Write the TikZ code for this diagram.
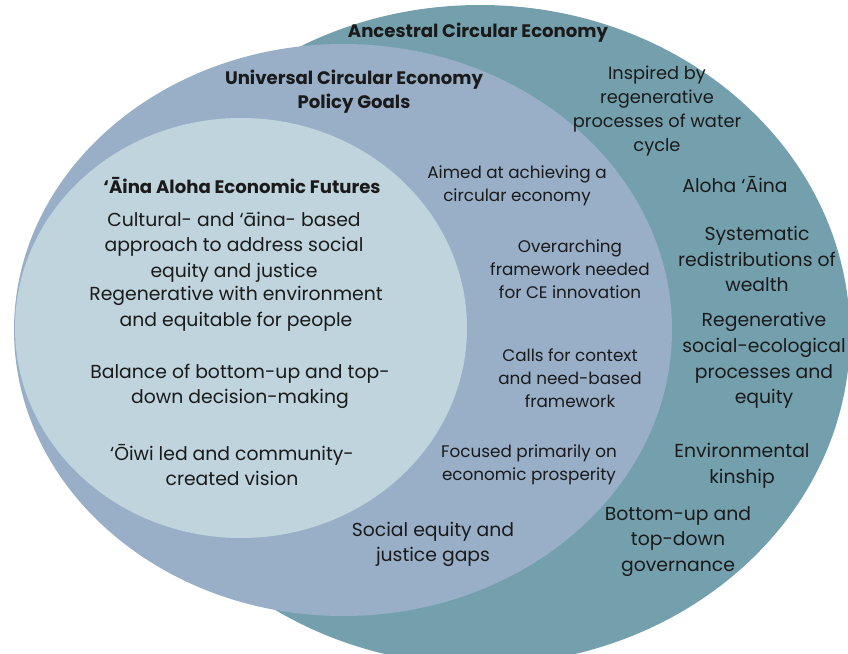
\documentclass[tikz,border=0pt]{standalone}
\usepackage{fontspec}
\setmainfont{Poppins}
\definecolor{ancestral}{RGB}{116,160,174}
\definecolor{universal}{RGB}{152,175,199}
\definecolor{aina}{RGB}{191,212,220}
\definecolor{ink}{RGB}{26,26,26}
\begin{document}
\begin{tikzpicture}[x=1pt, y=-1pt, line join=round, line cap=round]
 \tikzset{every node/.style={text=ink, align=center, inner sep=0pt},
  title/.style={font=\fontsize{18.1}{24}\selectfont\bfseries},
  body/.style={font=\fontsize{18.8}{25.7}\selectfont},
  small/.style={font=\fontsize{16.8}{23.3}\selectfont},
  water/.style={font=\fontsize{17.8}{24}\selectfont}}
 \useasboundingbox (0,0) rectangle (848,653);
 % the three rings
 \fill[ancestral] (480,335) ellipse [x radius=370pt, y radius=330pt];
 \fill[universal] (343,330) ellipse [x radius=329pt, y radius=286pt];
 \fill[aina] (241,328) ellipse [x radius=226pt, y radius=210pt];
 % titles
 \node[title] (ace) at (478,33) {Ancestral Circular Economy};
 \node[title] (uce) at (354,92) {Universal Circular Economy\\Policy Goals};
 \node[title] (aef) at (242,185) {‘Āina Aloha Economic Futures};
 % inner ring
 \node[body] (cult) at (234,247) {Cultural- and ‘āina- based\\approach to address social\\equity and justice};
 \node[body] (regen) at (236,308.5) {Regenerative with environment\\and equitable for people};
 \node[body] (bal) at (240,386.5) {Balance of bottom-up and top-\\down decision-making};
 \node[body] (oiwi) at (232,465) {‘Ōiwi led and community-\\created vision};
 % middle ring
 \node[small] (aim) at (517,186) {Aimed at achieving a\\circular economy};
 \node[small] (over) at (570,269) {Overarching\\framework needed\\for CE innovation};
 \node[small] (calls) at (570,378) {Calls for context\\and need-based\\framework};
 \node[small] (focus) at (529,465) {Focused primarily on\\economic prosperity};
 \node[body] (gaps) at (433,544.5) {Social equity and\\justice gaps};
 % outer ring
 \node[water] (insp) at (657,111) {Inspired by\\regenerative\\processes of water\\cycle};
 \node[body] (aloha) at (735,185) {Aloha ‘Āina};
 \node[body] (syst) at (757,259) {Systematic\\redistributions of\\wealth};
 \node[body] (regsoc) at (764,360.5) {Regenerative\\social-ecological\\processes and\\equity};
 \node[body] (env) at (742,465.5) {Environmental\\kinship};
 \node[body] (bot) at (678,541.5) {Bottom-up and\\top-down\\governance};
\end{tikzpicture}
\end{document}
